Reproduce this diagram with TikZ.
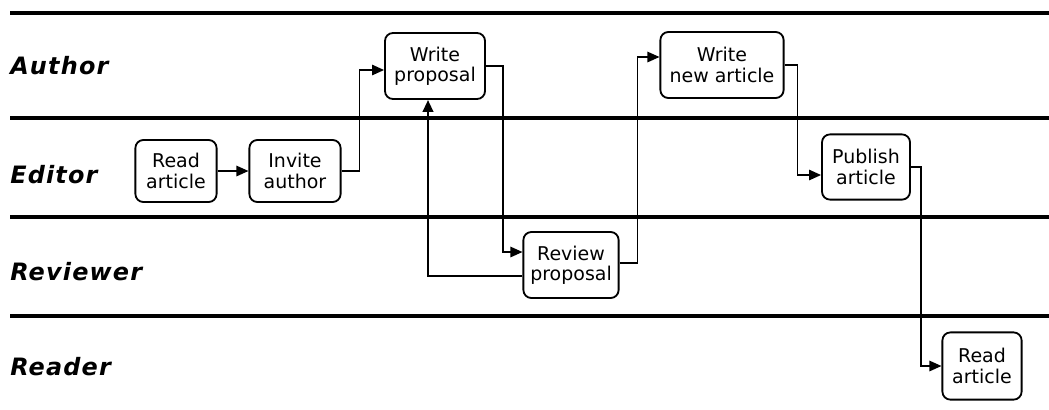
\documentclass[tikz,border=0pt]{standalone}
\usepackage{fontspec}
\setmainfont{DejaVu Sans}
\newfontfamily\lanefont[LetterSpace=5]{DejaVu Sans}
\usetikzlibrary{arrows.meta, positioning}
\tikzset{
	task/.style={rectangle, rounded corners=0.2cm, draw=black, line width=1.3pt, fill=white, align=center, inner sep=2pt, font=\fontsize{13.5}{14.5}\selectfont},
	lane/.style={line width=2.2pt},
	lanelabel/.style={anchor=west, inner sep=0pt, font=\lanefont\fontsize{17}{19}\selectfont\bfseries\itshape},
	flow/.style={-{Triangle[length=3mm, width=2.6mm]}, line width=1.1pt},
}

\begin{document}
\begin{tikzpicture}[x=0.025cm, y=-0.025cm]
	\useasboundingbox (0,0) rectangle (1049,409);
	% swim lanes
	\foreach \ly in {13,118,217,316}
		\draw[lane] (10,\ly) -- (1049,\ly);
	\node[lanelabel] (lAuthor) at (10,66) {Author};
	\node[lanelabel] (lEditor) at (10,175) {Editor};
	\node[lanelabel] (lReviewer) at (10,272) {Reviewer};
	\node[lanelabel] (lReader) at (10,367) {Reader};
	% tasks
	\node[task, minimum width=2.03cm, minimum height=1.55cm] (readE) at (176,171) {Read\\article};
	\node[task, minimum width=2.28cm, minimum height=1.55cm] (invite) at (295,171) {Invite\\author};
	\node[task, minimum width=2.5cm, minimum height=1.65cm] (wprop) at (435,66) {Write\\proposal};
	\node[task, minimum width=2.38cm, minimum height=1.65cm] (review) at (571,265) {Review\\proposal};
	\node[task, minimum width=3.08cm, minimum height=1.65cm] (wnew) at (722,65) {Write\\new article};
	\node[task, minimum width=2.2cm, minimum height=1.63cm] (publish) at (866,167) {Publish\\article};
	\node[task, minimum width=1.98cm, minimum height=1.68cm] (readR) at (982,366) {Read\\article};
	% flows
	\draw[flow] (readE) -- (invite);
	\draw[flow] (invite.east) -- ++(18,0) |- ([yshift=-0.1cm]wprop.west);
	\draw[flow] (wprop.east) -- ++(17,0) |- ([yshift=0.325cm]review.west);
	\draw[flow, line width=1.8pt] ([yshift=-0.275cm]review.west) -| ([xshift=-0.175cm]wprop.south);
	\draw[flow] ([yshift=0.05cm]review.east) -- ++(18,0) |- ([yshift=0.2cm]wnew.west);
	\draw[flow] (wnew.east) -- ++(13,0) |- ([yshift=-0.2cm]publish.west);
	\draw[flow] (publish.east) -- ++(10,0) |- (readR.west);
\end{tikzpicture}
\end{document}
